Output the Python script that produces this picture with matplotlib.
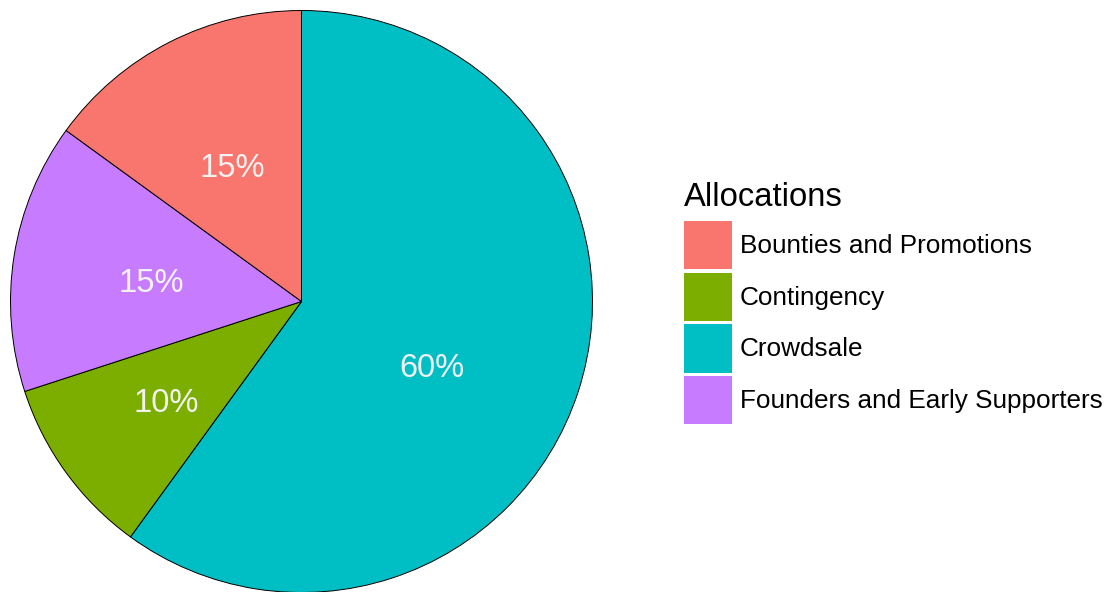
import numpy as np
import matplotlib.pyplot as plt
from matplotlib.patches import Patch

plt.rcParams["font.family"] = ["Liberation Sans", "DejaVu Sans"]

# legend (alphabetical) order
categories = ["Bounties and Promotions", "Contingency", "Crowdsale",
              "Founders and Early Supporters"]
shares = [15, 10, 60, 15]
colors = ["#F8766D", "#7CAE00", "#00BFC4", "#C77CFF"]

# clockwise from 12 o'clock
pie_order = ["Crowdsale", "Contingency", "Founders and Early Supporters",
             "Bounties and Promotions"]
# label placement (radius fraction, angle nudge in degrees), pie order
label_r = [0.50, 0.575, 0.522, 0.527]
label_nudge = [8, 0, -1, 0]

W, H = 1112, 592
fig = plt.figure(figsize=(W / 100, H / 100), dpi=100)
ax = fig.add_axes([10.5 / W, -0.5 / H, 582 / W, 582 / H])

idx = [categories.index(c) for c in pie_order]
vals = [shares[i] for i in idx]
wedges, _ = ax.pie(
    vals,
    colors=[colors[i] for i in idx],
    startangle=90,
    counterclock=False,
    radius=1,
    wedgeprops=dict(edgecolor="black", linewidth=0.7),
)

label_size = 23.5
total = sum(vals)
start = 0.0
for v, r, nudge in zip(vals, label_r, label_nudge):
    mid = start + v / total * 360 / 2 + nudge  # clockwise from top
    a = np.deg2rad(mid)
    ax.annotate("{:.0f}%".format(100 * v / total),
                xy=(r * np.sin(a), r * np.cos(a)),
                xytext=(0, -0.358 * label_size), textcoords="offset points",
                color="#F2F2F2", fontsize=label_size,
                ha="center", va="baseline")
    start += v / total * 360

ax.set_xlim(-1, 1)
ax.set_ylim(-1, 1)
ax.set_aspect("equal")
ax.axis("off")

handles = [Patch(facecolor=c, edgecolor="none") for c in colors]
leg = fig.legend(
    handles, categories,
    title="Allocations",
    loc="upper left",
    bbox_to_anchor=(684 / W, 1 - 182 / H),
    frameon=False,
    fontsize=18.8,
    title_fontsize=23.6,
    handlelength=1.84,
    handleheight=2.46,
    labelspacing=0.13,
    handletextpad=0.3,
    borderpad=0,
    borderaxespad=0,
    alignment="left",
)
leg._legend_box.sep = 6.0  # a bit more room under the title

fig.savefig("out.png", dpi=100)
